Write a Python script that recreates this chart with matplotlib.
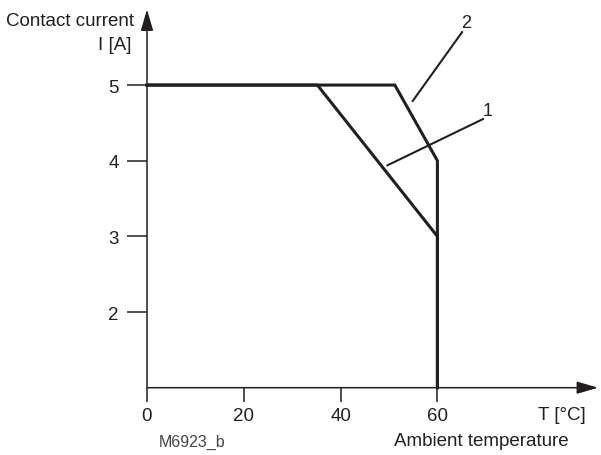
import matplotlib
matplotlib.use("Agg")
import matplotlib.pyplot as plt

# Data
curve1_T = [0, 35.2, 60, 60]
curve1_I = [5, 5, 3, 1]
curve2_T = [0, 51.2, 60, 60]
curve2_I = [5, 5, 4, 1]
x_ticks = [0, 20, 40, 60]
y_ticks = [2, 3, 4, 5]

C = '#231f20'
plt.rcParams['font.family'] = ['Liberation Sans', 'DejaVu Sans']

W, H = 601, 456
fig = plt.figure(figsize=(W / 100, H / 100), dpi=100)
# axes: x 0..92 -> px 147..592 ; y 1..5.7 -> px 388.7..33
ax = fig.add_axes([147 / W, (H - 388.7) / H, 445.3 / W, 355.6 / H])
ax.set_xlim(0, 92)
ax.set_ylim(1, 5.7)
for s in ax.spines.values():
    s.set_visible(False)

ax.plot(curve1_T, curve1_I, color=C, lw=2.2, solid_joinstyle='miter', clip_on=False)
ax.plot(curve2_T, curve2_I, color=C, lw=2.2, solid_joinstyle='miter', clip_on=False)

# axes with arrows
astyle = '-|>,head_length=1.3,head_width=0.38'
ax.annotate('', xy=(0, 6.0), xytext=(0, 1), xycoords='data',
            arrowprops=dict(arrowstyle=astyle, color=C, lw=1.1, shrinkA=0, shrinkB=0),
            annotation_clip=False)
ax.annotate('', xy=(93.2, 1), xytext=(0, 1), xycoords='data',
            arrowprops=dict(arrowstyle=astyle, color=C, lw=1.1, shrinkA=0, shrinkB=0),
            annotation_clip=False)

# leader lines and labels
ax.plot([54.9, 65.1], [4.79, 5.70], color=C, lw=1.5, clip_on=False)
ax.text(65.9, 5.83, '2', color=C, fontsize=13, ha='center', va='center')
ax.plot([49.7, 69.4], [3.94, 4.55], color=C, lw=1.5, clip_on=False)
ax.text(70.3, 4.66, '1', color=C, fontsize=13, ha='center', va='center')

ax.set_xticks(x_ticks)
ax.set_xticklabels([str(v) for v in x_ticks])
ax.set_yticks(y_ticks)
ax.set_yticklabels([str(v) for v in y_ticks])
ax.tick_params(axis='x', direction='out', length=10, width=1.1, color=C,
               labelsize=13.5, labelcolor=C, pad=4)
ax.tick_params(axis='y', direction='out', length=14.4, width=1.1, color=C,
               labelsize=13.5, labelcolor=C, pad=6)

def ftext(x, y, s, **kw):
    fig.text(x / W, 1 - y / H, s, **kw)

ftext(134, 21, 'Contact current', ha='right', va='center', fontsize=13.5, color=C)
ftext(131, 45, 'I [A]', ha='right', va='center', fontsize=13.5, color=C)
ftext(586, 416, 'T [°C]', ha='right', va='center', fontsize=13.5, color=C)
ftext(481, 442, 'Ambient temperature', ha='center', va='center', fontsize=13.5, color=C)
ftext(192, 442, 'M6923_b', ha='center', va='center', fontsize=11.5, color='#444444')

fig.savefig('out.png', dpi=100)
